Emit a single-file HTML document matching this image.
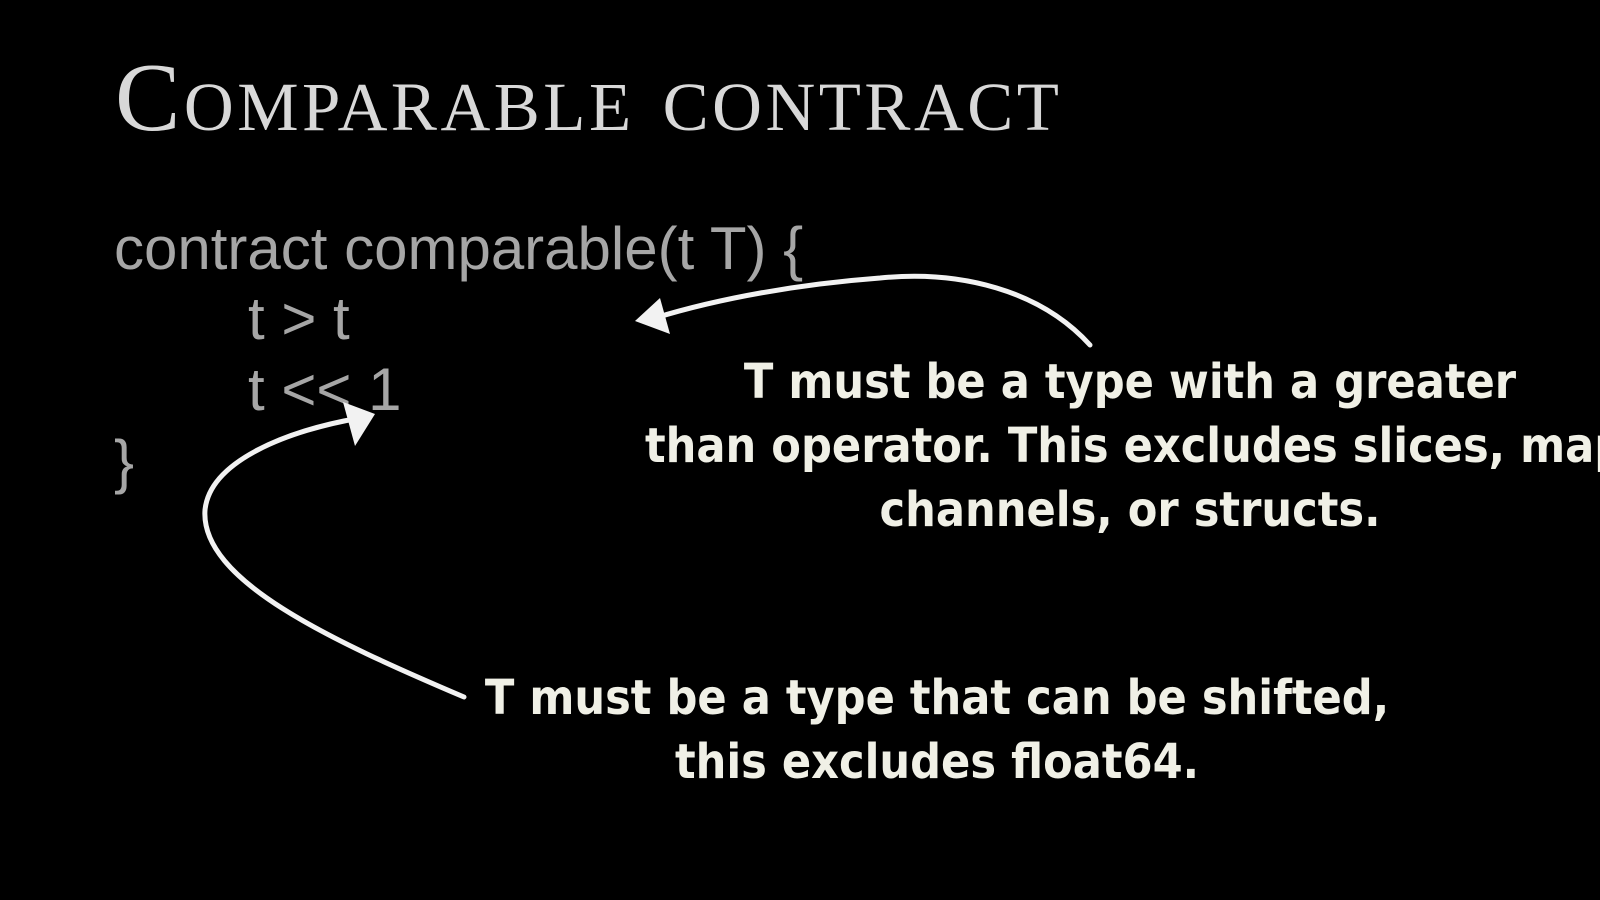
<!DOCTYPE html>
<html><head><meta charset="utf-8"><style>
html,body{margin:0;padding:0;background:#000;width:1600px;height:900px;overflow:hidden}
.wrap{position:absolute;left:0;top:0;width:1600px;height:900px;overflow:hidden}
.t{position:absolute;white-space:nowrap}
.title{left:115px;top:42px;font-family:"Liberation Serif",serif;font-size:98px;color:#d8d8d8;font-variant:small-caps;letter-spacing:3.5px}
.code{font-family:"Liberation Sans",sans-serif;font-size:60px;color:#a6a6a6}
.hand{font-family:"DejaVu Sans Condensed","DejaVu Sans",sans-serif;font-weight:bold;font-size:48px;color:#f0f0e6;text-align:center;line-height:64px}
</style></head><body><div class="wrap">
<div class="t title">Comparable contract</div>
<div class="t code" style="left:114px;top:214px">contract comparable(t T) {</div>
<div class="t code" style="left:248px;top:284px">t &gt; t</div>
<div class="t code" style="left:248px;top:355px">t &lt;&lt; 1</div>
<div class="t code" style="left:114px;top:427px">}</div>
<svg width="1600" height="900" style="position:absolute;left:0;top:0">
<g fill="none" stroke="#f2f2f2" stroke-width="5" stroke-linecap="round">
<path d="M1090,345 C1040,290 960,270 880,278 C800,284 720,298 655,318"/>
<path d="M464,697 C330,640 200,580 205,510 C210,460 290,430 360,418"/>
</g>
<polygon points="635,321 660,298 670,334" fill="#f2f2f2"/>
<polygon points="375,414 343,402 355,446" fill="#f2f2f2"/>
</svg>
<div class="t hand" style="left:630px;top:350px;width:1000px">T must be a type with a greater<br><span style="position:relative;left:15px">than operator. This excludes slices, maps</span><br>channels, or structs.</div>
<div class="t hand" style="left:437px;top:666px;width:1000px">T must be a type that can be shifted,<br>this excludes float64.</div>
</div></body></html>
